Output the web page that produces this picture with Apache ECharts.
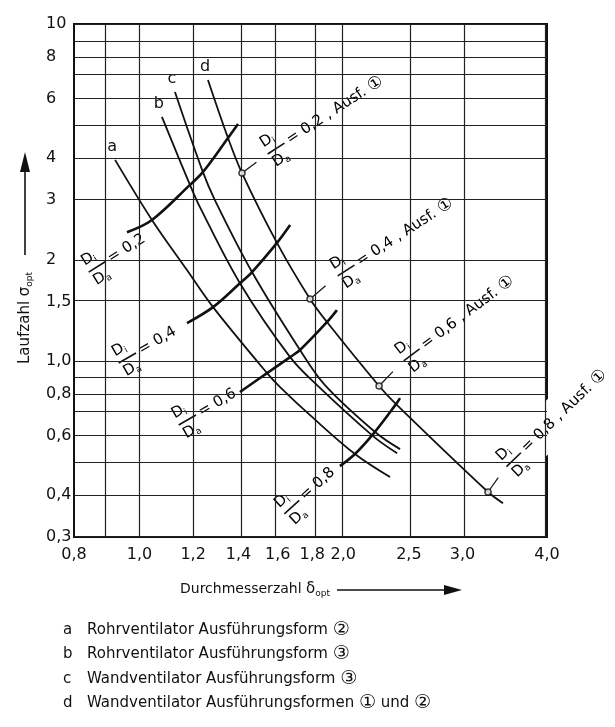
<!DOCTYPE html>
<html><head><meta charset="utf-8">
<script src="https://cdn.jsdelivr.net/npm/echarts@6/dist/echarts.min.js"></script>
<style>html,body{margin:0;padding:0;background:#fff}#c{width:615px;height:727px}</style>
</head><body><div id="c"></div>
<script>
// ---- axis ticks / grid ----
const xTicks = [0.8, 1.0, 1.2, 1.4, 1.6, 1.8, 2.0, 2.5, 3.0, 4.0];
const xTickLabels = ['0,8', '1,0', '1,2', '1,4', '1,6', '1,8', '2,0', '2,5', '3,0', '4,0'];
const xGrid = [0.8, 0.9, 1.0, 1.2, 1.4, 1.6, 1.8, 2.0, 2.5, 3.0, 4.0];
const yTicks = [0.3, 0.4, 0.6, 0.8, 1.0, 1.5, 2, 3, 4, 6, 8, 10];
const yTickLabels = ['0,3', '0,4', '0,6', '0,8', '1,0', '1,5', '2', '3', '4', '6', '8', '10'];
const yGrid = [0.3, 0.4, 0.5, 0.6, 0.7, 0.8, 0.9, 1.0, 1.5, 2, 3, 4, 5, 6, 7, 8, 9, 10];

// ---- curves a..d (delta_opt, sigma_opt) ----
const curveNames = ['a', 'b', 'c', 'd'];
const aX = [0.920, 1.043, 1.175, 1.284, 1.543, 1.613, 1.786, 2.081, 2.345];
const aY = [3.95, 2.62, 1.86, 1.444, 0.920, 0.836, 0.690, 0.529, 0.452];
const bX = [1.079, 1.187, 1.228, 1.407, 1.669, 1.829, 2.213, 2.402];
const bY = [5.30, 3.33, 2.86, 1.70, 1.026, 0.847, 0.598, 0.532];
const cX = [1.128, 1.237, 1.292, 1.466, 1.726, 1.879, 2.228, 2.426];
const cY = [6.28, 3.69, 3.00, 1.835, 1.077, 0.847, 0.615, 0.547];
const dX = [1.262, 1.351, 1.417, 1.596, 1.786, 1.892, 2.259, 2.393, 3.273, 3.444];
const dY = [6.82, 4.59, 3.61, 2.24, 1.526, 1.304, 0.842, 0.744, 0.408, 0.378];

// ---- hub ratio lines Di/Da ----
const ratioValues = ['0,2', '0,4', '0,6', '0,8'];
const r02X = [0.958, 1.043, 1.187, 1.241, 1.351, 1.398];
const r02Y = [2.41, 2.62, 3.33, 3.64, 4.59, 5.05];
const r04X = [1.175, 1.284, 1.407, 1.466, 1.596, 1.669];
const r04Y = [1.295, 1.444, 1.70, 1.835, 2.24, 2.53];
const r06X = [1.407, 1.543, 1.669, 1.726, 1.892, 1.957];
const r06Y = [0.808, 0.920, 1.026, 1.077, 1.304, 1.415];
const r08X = [1.977, 2.081, 2.213, 2.393, 2.426];
const r08Y = [0.487, 0.529, 0.606, 0.744, 0.775];

// ---- marked points on curve d (Ausf. 1) ----
const markerX = [1.417, 1.786, 2.259, 3.273];
const markerY = [3.61, 1.526, 0.842, 0.408];

// ---- legend ----
const legendKeys = ['a', 'b', 'c', 'd'];
const legendTexts = [
  'Rohrventilator Ausführungsform ②',
  'Rohrventilator Ausführungsform ③',
  'Wandventilator Ausführungsform ③',
  'Wandventilator Ausführungsformen ① und ②'
];
const xTitle = 'Durchmesserzahl';
const yTitle = 'Laufzahl';

// ---------------------------------------------------------------
const L10 = Math.log10;
const FONT = 'DejaVu Sans';
const INK = '#111';
const toPairs = (xs, ys) => xs.map((x, i) => [L10(x), L10(ys[i])]);
const labelFor = (v, ticks, labels) => {
  let best = 0, bd = Infinity;
  ticks.forEach((t, i) => { const d = Math.abs(L10(t) - v); if (d < bd) { bd = d; best = i; } });
  return labels[best];
};
const lineSeries = (name, xs, ys, w) => ({
  type: 'line', name, data: toPairs(xs, ys), showSymbol: false, smooth: 0.35,
  lineStyle: { color: INK, width: w }, z: 5, silent: true
});

const curves = [[aX, aY], [bX, bY], [cX, cY], [dX, dY]];
const ratios = [[r02X, r02Y], [r04X, r04Y], [r06X, r06Y], [r08X, r08Y]];

const chart = echarts.init(document.getElementById('c'));
const series = [];
// grid lines (drawn below the text boxes)
series.push({
  type: 'line', name: 'grid', data: [], z: 1, silent: true,
  markLine: {
    silent: true, symbol: ['none', 'none'], label: { show: false }, animation: false,
    lineStyle: { color: '#222', width: 1.2, type: 'solid' },
    emphasis: { disabled: true },
    data: [...xGrid.map(v => ({ xAxis: L10(v) })), ...yGrid.map(v => ({ yAxis: L10(v) }))]
  }
});
curves.forEach((c, i) => series.push(lineSeries(curveNames[i], c[0], c[1], 1.8)));
ratios.forEach((r, i) => series.push(lineSeries('r' + ratioValues[i], r[0], r[1], 2.6)));
series.push({
  type: 'scatter', data: toPairs(markerX, markerY), symbol: 'circle', symbolSize: 6, z: 6, silent: true,
  itemStyle: { color: '#fff', borderColor: INK, borderWidth: 1.6 }
});

chart.setOption({
  animation: false,
  backgroundColor: '#fff',
  grid: { left: 74, top: 24, right: 68, bottom: 190, show: true, borderColor: INK, borderWidth: 2, backgroundColor: 'transparent', outerBoundsMode: 'none' },
  xAxis: {
    type: 'value', min: L10(0.8), max: L10(4),
    splitLine: { show: false }, axisLine: { show: false }, axisTick: { show: false },
    axisLabel: { customValues: xTicks.map(L10), formatter: v => labelFor(v, xTicks, xTickLabels), fontSize: 16, fontFamily: FONT, color: INK, margin: 10, hideOverlap: false }
  },
  yAxis: {
    type: 'value', min: L10(0.3), max: L10(10),
    splitLine: { show: false }, axisLine: { show: false }, axisTick: { show: false },
    axisLabel: { customValues: yTicks.map(L10), formatter: v => labelFor(v, yTicks, yTickLabels), fontSize: 16, fontFamily: FONT, color: INK, margin: 28, align: 'left', hideOverlap: false }
  },
  series
});

// ---- annotations (placed relative to data points) ----
const px = (x, y) => chart.convertToPixel({ gridIndex: 0 }, [L10(x), L10(y)]);
const deg = a => a * Math.PI / 180;
const fracRich = {
  n: { fontSize: 15, fontFamily: FONT, lineHeight: 17, color: INK },
  s: { fontSize: 9, fontFamily: FONT, lineHeight: 17, verticalAlign: 'bottom', color: INK },
  bar: { width: 20, height: 1.6, backgroundColor: INK, lineHeight: 6 },
  t: { fontSize: 15, fontFamily: FONT, lineHeight: 6, padding: [0, 0, 0, 4], color: INK },
  c: { fontSize: 17, fontFamily: FONT, lineHeight: 6, color: INK }
};
const fracText = (val, ausf) =>
  '{n|D}{s|i}\n{bar|}{t|= ' + val + (ausf ? ' , Ausf. ' : '') + '}' + (ausf ? '{c|①}' : '') + '\n{n|D}{s|a}';

const graphics = [];
const TEXT_Z = 3; // above grid lines, below the curves
// left labels: anchored near the lower-left start of each ratio line
const leftPlace = [[-40, 41, 32], [-70, 41, 30], [-63, 34, 30], [-57, 49, 42]];
ratios.forEach((r, i) => {
  const p = px(r[0][0], r[1][0]);
  const [dx, dy, rot] = leftPlace[i];
  graphics.push({
    type: 'text', x: p[0] + dx, y: p[1] + dy, rotation: deg(rot), z: TEXT_Z,
    style: { text: fracText(ratioValues[i], false), rich: fracRich, align: 'left', verticalAlign: 'middle', backgroundColor: '#fff', padding: [0, 2] }
  });
});
// right labels: anchored to the marked points on curve d
const rightPlace = [[24, -18, 33], [26, -22, 33], [23, -24, 37], [17, -24, 44]];
markerX.forEach((mx, i) => {
  const m = px(mx, markerY[i]);
  const [dx, dy, rot] = rightPlace[i];
  const ax = m[0] + dx, ay = m[1] + dy;
  graphics.push({
    type: 'line', z: 4, shape: { x1: m[0], y1: m[1], x2: m[0] + 0.6 * dx, y2: m[1] + 0.6 * dy },
    style: { stroke: INK, lineWidth: 1.2 }
  });
  graphics.push({
    type: 'text', x: ax, y: ay, rotation: deg(rot), z: TEXT_Z,
    style: { text: fracText(ratioValues[i], true), rich: fracRich, align: 'left', verticalAlign: 'middle', backgroundColor: '#fff', padding: [0, 2] }
  });
});
// curve letters at the start of each curve
curves.forEach((c, i) => {
  const p = px(c[0][0], c[1][0]);
  graphics.push({
    type: 'text', x: p[0] - 3, y: p[1] - 13, z: TEXT_Z,
    style: { text: curveNames[i], font: '16px ' + FONT, fill: INK, align: 'center', verticalAlign: 'middle', backgroundColor: '#fff', padding: [0, 2] }
  });
});
// axis titles
const subRich = {
  g: { fontSize: 15, fontFamily: FONT, color: INK },
  sub: { fontSize: 9, fontFamily: FONT, color: INK, verticalAlign: 'bottom', lineHeight: 18 }
};
graphics.push({
  type: 'text', x: 180, y: 589, z: 10,
  style: { text: xTitle + ' {g|δ}{sub|opt}', font: '14px ' + FONT, fill: INK, align: 'left', verticalAlign: 'middle', rich: subRich }
});
graphics.push({ type: 'line', z: 10, shape: { x1: 337, y1: 590, x2: 448, y2: 590 }, style: { stroke: INK, lineWidth: 1.6 } });
graphics.push({ type: 'polygon', z: 10, shape: { points: [[462, 590], [444, 585], [444, 595]] }, style: { fill: INK } });
graphics.push({
  type: 'text', x: 25, y: 364, rotation: Math.PI / 2, z: 10,
  style: { text: yTitle + ' {g|σ}{sub|opt}', font: '15px ' + FONT, fill: INK, align: 'left', verticalAlign: 'middle', rich: subRich }
});
graphics.push({ type: 'line', z: 10, shape: { x1: 25, y1: 255, x2: 25, y2: 168 }, style: { stroke: INK, lineWidth: 1.6 } });
graphics.push({ type: 'polygon', z: 10, shape: { points: [[25, 152], [20, 172], [30, 172]] }, style: { fill: INK } });
// legend
const legRich = { c: { fontSize: 19, fontFamily: FONT, color: INK } };
legendKeys.forEach((k, i) => {
  const y = 630 + i * 24.4;
  graphics.push({ type: 'text', x: 63, y, z: 10, style: { text: k, font: '15px ' + FONT, fill: INK, align: 'left', verticalAlign: 'middle' } });
  graphics.push({
    type: 'text', x: 87, y, z: 10,
    style: { text: legendTexts[i].replace(/([①②③])/g, '{c|$1}'), rich: legRich, font: '15px ' + FONT, fill: INK, align: 'left', verticalAlign: 'middle' }
  });
});
chart.setOption({ graphic: graphics });
</script>
</body></html>
